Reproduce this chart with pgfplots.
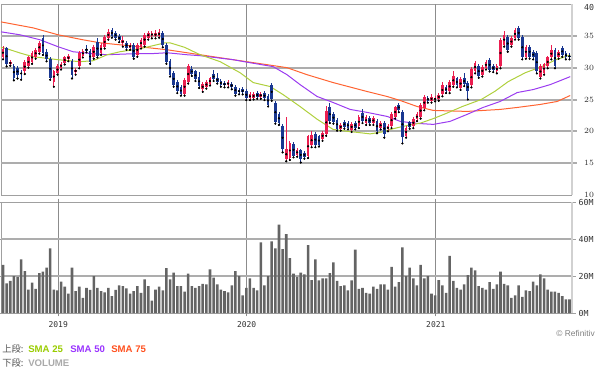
\documentclass[border=0pt]{standalone}
\usepackage{pgfplots}
\pgfplotsset{compat=1.18}
\usepackage{pgfplotstable}
\usepackage{fontspec}
\setmainfont{Liberation Sans}
\newfontfamily\cjk{Noto Sans CJK JP}
\newfontfamily\tickfont{DejaVu Sans Mono}

\definecolor{upc}{RGB}{235,30,80}
\definecolor{dnc}{RGB}{25,55,145}
\definecolor{s25}{RGB}{175,208,60}
\definecolor{s50}{RGB}{155,60,240}
\definecolor{s75}{RGB}{255,100,50}
\definecolor{volc}{RGB}{100,100,100}
\definecolor{yearc}{RGB}{140,140,140}
\definecolor{axisc}{RGB}{160,160,160}
\definecolor{tickc}{RGB}{50,50,50}
\definecolor{t25}{RGB}{153,204,0}
\definecolor{t50}{RGB}{153,51,255}
\definecolor{t75}{RGB}{255,80,30}
\definecolor{labg}{RGB}{85,85,85}
\definecolor{volt}{RGB}{170,170,170}

\pgfplotsset{
  candle/.style={only marks, mark=*, mark size=0.5pt, mark options={draw=none, fill=none}},
}

\pgfplotstableread{
i o h l c v
0 31.7 33.4 31.3 33.0 26
1 33.1 33.3 30.2 30.5 16
2 30.6 31.2 30.3 30.9 17.3
3 30.2 30.5 28.0 28.4 20
4 30.0 30.3 28.3 28.8 19.5
5 29.2 29.7 28.1 29.0 29
6 29.4 31.2 29.0 30.9 22.7
7 30.2 31.9 30.0 31.6 12.7
8 30.9 32.6 30.6 32.3 16.4
9 31.7 33.1 31.4 32.8 13
10 32.5 34.2 32.2 33.9 21.5
11 34.7 35.2 32.0 32.3 22.4
12 32.5 32.9 31.0 31.3 24.5
13 31.3 31.6 28.1 28.4 35
14 27.8 29.7 27.0 29.4 12.7
15 29.2 30.5 28.9 30.2 12.2
16 30.0 30.9 29.7 30.6 17
17 30.8 31.9 30.5 31.6 14.2
18 31.3 32.2 31.0 31.8 10.5
19 31.0 31.3 28.3 28.8 24.5
20 29.3 29.9 28.9 29.7 11.8
21 30.2 32.6 29.9 32.3 14.2
22 31.9 32.9 31.6 32.6 8.2
23 33.0 33.5 32.4 32.7 13.6
24 32.6 32.9 30.6 30.9 12.5
25 31.7 33.6 31.4 33.3 20
26 34.1 34.6 31.6 31.9 13.6
27 32.3 33.9 32.0 33.6 11.8
28 33.3 35.1 33.0 34.8 11.1
29 34.7 36.0 34.4 35.6 13.6
30 35.9 36.3 34.7 35.0 9.1
31 35.5 35.8 34.4 34.7 12.5
32 35.0 35.3 34.0 34.3 15
33 33.9 35.0 33.3 34.3 14.5
34 33.9 34.2 32.8 33.1 13.3
35 33.1 33.9 32.8 33.6 10.5
36 33.6 33.9 31.4 31.7 11.8
37 32.0 33.9 31.7 33.6 14.5
38 33.3 34.7 33.0 34.4 10.9
39 33.6 35.5 33.3 35.2 18.2
40 34.7 35.8 34.4 35.5 14.5
41 34.9 35.8 34.6 35.5 6.7
42 34.9 35.9 34.6 35.5 12.7
43 35.0 36.0 34.7 35.6 14.2
44 35.5 35.8 33.2 33.5 12.2
45 33.5 33.8 30.6 30.9 24.2
46 31.0 31.3 28.6 28.9 18.2
47 29.2 29.5 27.0 27.3 21.8
48 27.8 28.1 26.0 26.3 14.5
49 26.9 27.2 25.6 25.9 14.5
50 25.9 28.4 25.6 28.1 11.5
51 27.8 30.5 27.5 30.2 21.3
52 29.8 30.3 28.7 29.0 14.5
53 29.4 29.7 27.9 28.2 13.6
54 28.6 29.3 26.8 27.1 14.5
55 26.6 27.8 26.2 27.4 15.8
56 27.0 28.0 26.7 27.7 15.5
57 27.5 28.6 27.2 28.3 23.6
58 29.0 29.6 27.9 28.2 19.1
59 28.4 29.1 27.5 27.8 15.5
60 27.9 28.2 27.0 27.3 12.7
61 27.6 27.9 26.9 27.2 11.8
62 27.2 28.1 26.9 27.8 11.1
63 27.5 27.8 26.6 26.9 15
64 27.0 27.3 25.6 25.9 22.7
65 26.5 26.8 25.8 26.1 20
66 26.6 26.9 25.8 26.1 9.5
67 26.3 26.6 24.9 25.2 13.6
68 25.2 26.1 24.9 25.8 18.7
69 25.3 26.1 25.0 25.8 13.6
70 26.0 26.3 25.1 25.4 12.2
71 25.4 26.2 25.1 25.9 38.2
72 26.0 26.3 24.9 25.2 15
73 25.5 25.8 23.9 24.2 20
74 27.3 27.6 24.8 25.1 38.7
75 24.5 24.8 21.2 21.5 35
76 22.8 23.1 21.0 21.3 47.8
77 20.8 21.2 16.7 17.2 34.5
78 15.6 22.2 15.3 17.2 42.7
79 15.8 18.5 15.5 18.2 29.6
80 18.0 18.3 15.9 16.2 21.3
81 16.3 17.4 16.0 17.1 19.5
82 17.0 17.3 15.1 15.6 21.8
83 16.6 16.9 15.7 16.0 20.9
84 16.1 19.5 15.8 19.2 36.7
85 17.8 20.0 17.5 19.4 17.8
86 19.6 19.9 17.5 17.8 29
87 19.2 19.5 17.6 17.9 17.6
88 18.8 20.1 18.5 19.8 18.7
89 19.6 24.0 19.3 23.2 18.7
90 23.8 24.4 21.3 21.6 21.5
91 22.8 23.1 21.2 21.5 27.3
92 21.8 22.1 20.1 20.4 17.3
93 20.4 21.3 20.1 21.0 14.5
94 21.5 21.8 20.4 20.7 15
95 21.3 21.6 20.3 20.6 12.2
96 20.2 21.5 19.9 21.2 17.6
97 21.3 21.6 20.3 20.6 34.2
98 20.8 22.5 20.5 22.2 13.1
99 22.9 23.5 21.3 21.6 13.6
100 21.3 22.5 21.0 22.2 10.9
101 22.1 22.4 21.0 21.3 10.5
102 21.3 22.4 21.0 22.1 14.2
103 21.6 21.9 19.7 20.0 13.1
104 20.6 21.6 20.3 21.3 15.5
105 21.3 21.6 19.0 19.6 15.5
106 20.3 21.1 20.0 20.8 12.7
107 20.8 23.0 20.5 22.7 24.9
108 22.3 24.0 22.0 23.75 14.2
109 24.2 24.5 23.0 23.3 16.7
110 23.1 23.4 18.1 19.1 35.5
111 19.3 20.8 19.0 20.5 20
112 21.4 21.7 20.4 20.7 24.5
113 20.8 22.2 20.5 21.9 18.7
114 21.9 23.0 21.6 22.7 15
115 22.3 24.5 22.0 24.2 26
116 23.6 25.7 23.3 25.4 18.7
117 25.3 25.6 24.5 24.8 20
118 24.8 25.8 24.5 25.4 10.5
119 25.0 25.5 24.7 25.2 9.5
120 25.1 26.0 24.8 25.7 17.8
121 25.8 27.7 25.5 27.2 15
122 26.9 27.2 26.0 26.3 10.9
123 26.3 28.1 26.0 27.8 30.9
124 27.3 29.5 27.0 28.7 17.3
125 28.3 28.6 26.9 27.2 13.6
126 26.8 28.5 26.5 28.2 12.7
127 28.4 29.1 27.1 27.4 15.5
128 27.6 27.9 25.0 26.3 20.5
129 27.2 30.1 26.9 29.8 24.5
130 29.4 31.1 29.1 30.8 23.1
131 30.2 30.5 28.4 28.7 14.5
132 28.9 30.4 28.6 30.1 13.6
133 30.0 31.2 29.7 30.9 12.7
134 31.2 31.5 29.4 29.7 16.7
135 30.3 30.6 29.3 29.6 13.1
136 29.4 30.5 29.1 30.2 15.5
137 30.2 34.7 29.9 34.4 22.4
138 33.6 35.8 33.3 35.2 15.8
139 34.8 35.1 32.5 32.8 15
140 33.6 34.9 33.3 34.6 8.2
141 34.7 36.2 34.4 35.9 9.5
142 36.25 36.5 34.4 34.7 15
143 34.8 35.1 31.3 31.6 8.7
144 31.7 33.6 31.4 33.3 12.2
145 33.3 33.6 31.4 31.7 11.8
146 32.5 32.8 31.3 31.6 16.9
147 32.3 32.6 29.1 29.4 14.9
148 28.6 30.5 28.3 30.2 20.9
149 29.2 30.8 28.9 30.5 18.7
150 30.2 31.9 29.9 31.6 12.7
151 31.6 33.6 31.3 32.8 11.5
152 32.8 33.1 29.9 30.2 11.5
153 31.7 32.8 31.4 32.5 10.9
154 33.1 33.4 31.7 32.0 9.1
155 32.3 32.6 31.3 31.6 7.3
156 31.9 32.3 31.3 31.7 7.3
}\candles

\pgfplotstableread{
i p
-0.55 33.2
1.1 32.97
4.7 32.3
8.3 31.72
15.2 31.25
21.2 30.94
24.8 31.09
28.7 32.03
32.2 32.5
37.7 32.97
44.6 33.9
46.0 33.9
50.0 33.2
54.3 32.03
59.8 30.94
65.3 29.2
68.9 27.66
73.6 27.03
77.1 25.78
81.8 23.9
86.5 21.9
90.9 20.3
94.8 20.0
97.5 19.84
101.1 19.6
104.4 19.9
107.4 20.4
110.3 20.8
115.0 21.3
118.5 22.0
122.0 22.8
126.5 23.9
131.7 25.0
135.5 26.3
139.1 27.8
143.8 29.2
148.5 30.2
152.1 31.2
156.2 32.0
}\smaA

\pgfplotstableread{
i p
-0.55 35.63
4.7 35.16
10.2 34.38
15.2 33.28
19.3 32.5
24.8 32.19
28.7 32.03
35.8 32.19
40.5 32.19
45.2 32.34
50.7 32.03
54.3 31.88
63.4 31.25
68.0 30.78
74.4 30.16
78.2 28.9
81.8 27.34
86.5 25.47
90.9 24.53
95.6 23.44
100.3 22.97
105.8 22.34
109.4 21.56
114.0 21.25
118.5 21.09
123.1 21.56
127.8 22.66
132.2 23.75
136.9 24.69
141.6 26.09
146.0 26.56
150.7 27.34
156.2 28.59
}\smaB

\pgfplotstableread{
i p
-0.55 37.19
8.3 36.25
15.2 35.16
22.0 34.38
26.7 33.91
32.2 33.59
37.7 33.28
45.2 32.81
50.7 32.34
54.3 32.03
63.4 31.25
72.7 30.47
78.2 30.0
83.7 28.9
90.9 27.66
100.3 26.25
105.8 25.47
109.4 24.84
114.0 23.91
118.5 23.28
127.8 23.13
132.2 23.28
136.9 23.44
141.6 23.75
147.9 24.22
152.6 24.69
156.2 25.63
}\smaC

\begin{document}
\begin{tikzpicture}
\path[use as bounding box] (0,0) rectangle (450pt,279pt);

% ---------- price panel ----------
\begin{axis}[
  at={(0.75pt,132.75pt)}, anchor=south west, scale only axis,
  width=428pt, height=143.25pt,
  xmin=-0.55, xmax=156.6, ymin=10, ymax=40,
  clip=false,
  axis line style={draw=axisc, line width=0.7pt},
  xtick=\empty,
  extra x ticks={15.2,67.1,119.2}, extra x tick labels={,,},
  extra x tick style={grid=major, major grid style={draw=yearc, line width=0.6pt}, major tick length=0pt},
  ytick={10,15,20,25,30,35},
  extra y ticks={40}, extra y tick labels={40},
  extra y tick style={yticklabel style={yshift=-2.5pt}},
  yticklabel pos=right,
  major tick length=0pt,
  yticklabel style={font=\tickfont\fontsize{6.2}{7}\selectfont, text=tickc, anchor=west, inner sep=0pt, xshift=9.2pt},
]
\addplot[draw=black!32, line width=1.5pt, forget plot] coordinates {(-0.55,15) (158.0,15)};
\addplot[draw=black!32, line width=1.5pt, forget plot] coordinates {(-0.55,20) (158.0,20)};
\addplot[draw=black!32, line width=1.5pt, forget plot] coordinates {(-0.55,25) (158.0,25)};
\addplot[draw=black!32, line width=1.5pt, forget plot] coordinates {(-0.55,30) (158.0,30)};
\addplot[draw=black!32, line width=1.5pt, forget plot] coordinates {(-0.55,35) (158.0,35)};
\addplot[draw=black!18, line width=1.5pt, forget plot] coordinates {(156.7,10) (156.7,40)};
\addplot[s75, line width=0.75pt] table[x=i,y=p]{\smaC};
\addplot[s50, line width=0.75pt] table[x=i,y=p]{\smaB};
\addplot[s25, line width=0.75pt] table[x=i,y=p]{\smaA};
% wicks (length set to zero for the other colour)
\addplot[candle,
  error bars/.cd, y dir=plus, y explicit, error mark=none,
  error bar style={draw=upc, line width=0.6pt}]
  table[x=i, y=l, y error plus expr={(\thisrow{c}>=\thisrow{o})*(\thisrow{h}-\thisrow{l})}]{\candles};
\addplot[candle,
  error bars/.cd, y dir=plus, y explicit, error mark=none,
  error bar style={draw=dnc, line width=0.6pt}]
  table[x=i, y=l, y error plus expr={(\thisrow{c}<\thisrow{o})*(\thisrow{h}-\thisrow{l})}]{\candles};
% bodies
\addplot[candle,
  error bars/.cd, y dir=both, y explicit, error mark=none,
  error bar style={draw=upc, line width=2pt}]
  table[x=i, y expr={0.5*(\thisrow{o}+\thisrow{c})}, y error expr={(\thisrow{c}>=\thisrow{o})*max(0.5*abs(\thisrow{c}-\thisrow{o}),0.08)}]{\candles};
\addplot[candle,
  error bars/.cd, y dir=both, y explicit, error mark=none,
  error bar style={draw=dnc, line width=2pt}]
  table[x=i, y expr={0.5*(\thisrow{o}+\thisrow{c})}, y error expr={(\thisrow{c}<\thisrow{o})*max(0.5*abs(\thisrow{c}-\thisrow{o}),0.08)}]{\candles};
\end{axis}

% ---------- volume panel ----------
\begin{axis}[
  at={(0.75pt,44.25pt)}, anchor=south west, scale only axis,
  width=428pt, height=83.25pt,
  xmin=-0.55, xmax=156.6, ymin=0, ymax=60,
  clip=false,
  axis line style={draw=axisc, line width=0.7pt},
  xtick=\empty,
  extra x ticks={15.2,67.1,119.2}, extra x tick labels={2019,2020,2021},
  extra x tick style={grid=major, major grid style={draw=yearc, line width=0.6pt},
    major tick length=2.5pt, tick align=outside, tick style={draw=yearc, line width=0.6pt},
    xticklabel style={font=\tickfont\fontsize{6}{7}\selectfont, text=tickc, anchor=north, inner sep=0pt, yshift=-4pt}},
  ytick={0,20,40,60}, yticklabels={0M,20M,40M,60M},
  yticklabel pos=right,
  major tick length=3pt, tick align=outside,
  ytick style={draw=axisc, line width=0.6pt},
  yticklabel style={font=\tickfont\fontsize{6.2}{7}\selectfont, text=tickc, anchor=west, inner sep=0pt, xshift=2pt},
]
\addplot[draw=black!32, line width=1.5pt, forget plot] coordinates {(-0.55,20) (156.6,20)};
\addplot[draw=black!32, line width=1.5pt, forget plot] coordinates {(-0.55,40) (156.6,40)};
\addplot[draw=black!18, line width=1.5pt, forget plot] coordinates {(156.7,0) (156.7,60)};
\addplot[ybar, bar width=0.7, bar shift=0pt, fill=volc, draw=none] table[x=i,y=v]{\candles};
\end{axis}

% ---------- legend texts ----------
\node[anchor=west, inner sep=0pt, font=\cjk\fontsize{7}{8}\selectfont, text=labg] at (1.5pt,17.25pt) {上段:};
\node[anchor=west, inner sep=0pt, font=\bfseries\fontsize{7.2}{8}\selectfont, text=t25] at (21pt,17.25pt) {SMA 25};
\node[anchor=west, inner sep=0pt, font=\bfseries\fontsize{7.2}{8}\selectfont, text=t50] at (52.5pt,17.25pt) {SMA 50};
\node[anchor=west, inner sep=0pt, font=\bfseries\fontsize{7.2}{8}\selectfont, text=t75] at (83.25pt,17.25pt) {SMA 75};
\node[anchor=west, inner sep=0pt, font=\cjk\fontsize{7}{8}\selectfont, text=labg] at (1.5pt,6.75pt) {下段:};
\node[anchor=west, inner sep=0pt, font=\bfseries\fontsize{7.2}{8}\selectfont, text=volt] at (21pt,6.75pt) {VOLUME};
\node[anchor=east, inner sep=0pt, font=\fontsize{6.3}{7}\selectfont, text=gray] at (446.25pt,29.25pt) {© Refinitiv};
\end{tikzpicture}
\end{document}
